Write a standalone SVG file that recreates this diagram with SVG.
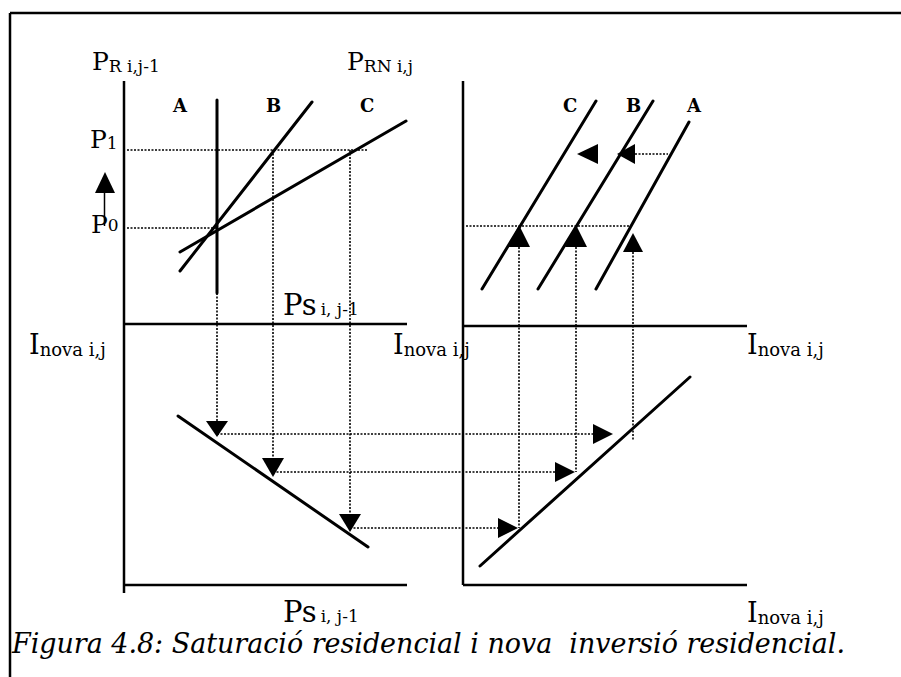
<svg xmlns="http://www.w3.org/2000/svg" width="901" height="677" viewBox="0 0 901 677">
<style>
.ax{stroke:#000;stroke-width:2.5;fill:none}
.ln{stroke:#000;stroke-width:3;fill:none;stroke-linecap:round}
.dt{stroke:#000;stroke-width:1.6;stroke-dasharray:2 1.5;fill:none}
.ar{fill:#000}
.lb{font-family:"DejaVu Serif","Liberation Serif",serif;fill:#000}
.big{font-size:25px}
.sub{font-size:17px}
.abc{font-family:"DejaVu Serif","Liberation Serif",serif;font-size:18px;font-weight:bold;fill:#000}
.cap{font-family:"DejaVu Serif","Liberation Serif",serif;font-style:italic;font-size:27px;fill:#000;white-space:pre}
</style>
<rect width="901" height="677" fill="#fff"/>
<g id="frame">
<line class="ax" x1="10" y1="13" x2="901" y2="13" stroke-width="2"/>
<line class="ax" x1="10" y1="13" x2="10" y2="677" stroke-width="2"/>
</g>
<g id="axes">
<line class="ax" x1="124" y1="81" x2="124" y2="593"/>
<line class="ax" x1="124" y1="324" x2="407" y2="324"/>
<line class="ax" x1="124" y1="585" x2="407" y2="585"/>
<line class="ax" x1="463" y1="81" x2="463" y2="585"/>
<line class="ax" x1="463" y1="326" x2="747" y2="326"/>
<line class="ax" x1="463" y1="585" x2="747" y2="585"/>
</g>
<g id="curves">
<line class="ln" x1="217" y1="100" x2="217" y2="293" stroke-linecap="butt"/>
<line class="ln" x1="180" y1="271" x2="312" y2="102"/>
<line class="ln" x1="180" y1="252" x2="406" y2="121"/>
<line class="ln" x1="482" y1="289" x2="596" y2="101"/>
<line class="ln" x1="538" y1="289" x2="653" y2="101"/>
<line class="ln" x1="596" y1="289" x2="689" y2="122"/>
<line class="ln" x1="178" y1="416" x2="368" y2="547"/>
<line class="ln" x1="480" y1="566" x2="690" y2="377"/>
</g>
<g id="connectors">
<line class="dt" x1="127" y1="150" x2="368" y2="150"/>
<line class="dt" x1="127" y1="228" x2="217" y2="228"/>
<line class="dt" x1="217" y1="293" x2="217" y2="421"/>
<line class="dt" x1="273" y1="150" x2="273" y2="458"/>
<line class="dt" x1="350" y1="150" x2="350" y2="514"/>
<line class="dt" x1="466" y1="226" x2="632" y2="226"/>
<line class="dt" x1="635" y1="154" x2="668" y2="154"/>
<line class="dt" x1="519" y1="247" x2="519" y2="528"/>
<line class="dt" x1="576" y1="247" x2="576" y2="472"/>
<line class="dt" x1="633" y1="252" x2="633" y2="440"/>
<line class="dt" x1="217" y1="434" x2="593" y2="434"/>
<line class="dt" x1="273" y1="472" x2="555" y2="472"/>
<line class="dt" x1="350" y1="528" x2="498" y2="528"/>
<line x1="104.5" y1="190" x2="104.5" y2="226" stroke="#000" stroke-width="1.5"/>
</g>
<g id="arrows">
<polygon class="ar" points="105,172 95,193 115,193"/>
<polygon class="ar" points="577,154 598,144 598,164"/>
<polygon class="ar" points="617,154 635,144 635,164"/>
<polygon class="ar" points="519,225 508,247 530,247"/>
<polygon class="ar" points="576,225 565,247 587,247"/>
<polygon class="ar" points="633,233 623,252 643,252"/>
<polygon class="ar" points="217,437 206,421 228,421"/>
<polygon class="ar" points="273,477 262,458 284,458"/>
<polygon class="ar" points="350,532 339,514 361,514"/>
<polygon class="ar" points="613,434 593,424 593,444"/>
<polygon class="ar" points="575,472 555,462 555,482"/>
<polygon class="ar" points="518,528 498,518 498,538"/>
</g>
<g id="labels">
<text class="lb" x="92" y="70"><tspan class="big">P</tspan><tspan class="sub" dy="2">R i,j-1</tspan></text>
<text class="lb" x="347" y="70"><tspan class="big">P</tspan><tspan class="sub" dy="2">RN i,j</tspan></text>
<text class="lb" x="90" y="148"><tspan class="big">P</tspan><tspan class="sub" dy="1">1</tspan></text>
<text class="lb" x="91" y="233"><tspan class="big">P</tspan><tspan class="sub" dy="-2">0</tspan></text>
<text class="abc" x="173" y="112">A</text>
<text class="abc" x="266" y="112">B</text>
<text class="abc" x="360" y="112">C</text>
<text class="abc" x="563" y="112">C</text>
<text class="abc" x="626" y="112">B</text>
<text class="abc" x="687" y="112">A</text>
<text class="lb" x="283" y="315"><tspan style="font-size:29px">Ps</tspan><tspan class="sub" dx="4">i, j-1</tspan></text>
<text class="lb" x="283" y="622"><tspan style="font-size:29px">Ps</tspan><tspan class="sub" dx="4">i, j-1</tspan></text>
<text class="lb" x="29" y="354"><tspan style="font-size:27px">I</tspan><tspan class="sub" dy="2" style="font-size:18px">nova i,j</tspan></text>
<text class="lb" x="393" y="354"><tspan style="font-size:27px">I</tspan><tspan class="sub" dy="2" style="font-size:18px">nova i,j</tspan></text>
<text class="lb" x="747" y="354"><tspan style="font-size:27px">I</tspan><tspan class="sub" dy="2" style="font-size:18px">nova i,j</tspan></text>
<text class="lb" x="747" y="622"><tspan style="font-size:27px">I</tspan><tspan class="sub" dy="2" style="font-size:18px">nova i,j</tspan></text>
<text class="cap" x="12" y="653" textLength="833" lengthAdjust="spacingAndGlyphs">Figura 4.8: Saturació residencial i nova  inversió residencial.</text>
</g>
</svg>
